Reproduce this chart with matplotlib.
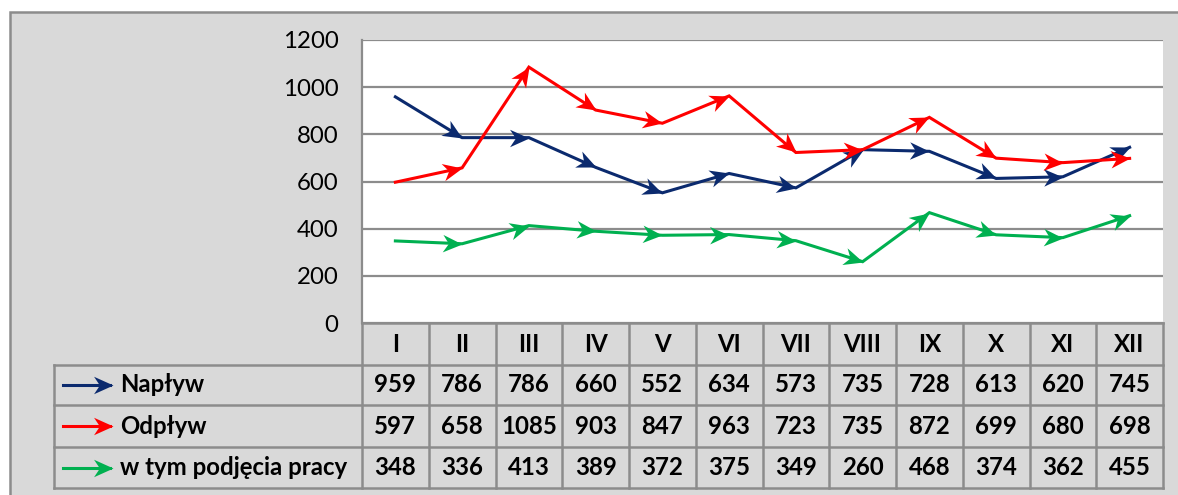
import matplotlib
matplotlib.use("Agg")
import numpy as np
import matplotlib.pyplot as plt
from matplotlib.patches import Rectangle
from matplotlib.lines import Line2D
from matplotlib.markers import MarkerStyle
from matplotlib.path import Path
import matplotlib.transforms as mtransforms

plt.rcParams['font.family'] = ['Lato', 'DejaVu Sans']

months = ["I", "II", "III", "IV", "V", "VI", "VII", "VIII", "IX", "X", "XI", "XII"]
naplyw = [959, 786, 786, 660, 552, 634, 573, 735, 728, 613, 620, 745]
odplyw = [597, 658, 1085, 903, 847, 963, 723, 735, 872, 699, 680, 698]
podjecia = [348, 336, 413, 389, 372, 375, 349, 260, 468, 374, 362, 455]
series_names = ["Napływ", "Odpływ", "w tym podjęcia pracy"]
series_colors = ["#0b2a6e", "#ff0000", "#00b050"]
yticks = [0, 200, 400, 600, 800, 1000, 1200]

W, H = 1178, 495
fig = plt.figure(figsize=(W / 100, H / 100), dpi=100)
fig.patch.set_facecolor("white")

def fx(px):
    return px / W

def fy(py):
    return 1 - py / H

GRAY = "#d9d9d9"
EDGE = "#8c8c8c"
FS = 17.3

# stealth arrowhead, tip at origin pointing +x
stealth = Path([(0, 0), (-1, 0.45), (-0.7, 0), (-1, -0.45), (0, 0)],
               [Path.MOVETO, Path.LINETO, Path.LINETO, Path.LINETO, Path.CLOSEPOLY])
MS = 28

def head(angle):
    return MarkerStyle(stealth).rotated(deg=angle)

# outer chart background
bg = Rectangle((fx(10), fy(H + 20)), fx(W + 20 - 10), fy(12) - fy(H + 20),
               transform=fig.transFigure, facecolor=GRAY, edgecolor=EDGE,
               linewidth=1.8, zorder=-10)
fig.patches.append(bg)

L, R, T, B = 362, 1163, 40, 323
ax = fig.add_axes([fx(L), fy(B), fx(R) - fx(L), fy(T) - fy(B)])
ax.set_zorder(1)
ax.set_facecolor("white")
ax.set_xlim(-0.5, len(months) - 0.5)
ax.set_ylim(0, 1200)
ax.set_yticks(yticks)
ax.set_yticklabels([str(v) for v in yticks], fontsize=FS)
ax.set_xticks([])
ax.tick_params(axis='y', length=0, pad=17)
ax.yaxis.grid(True, color=EDGE, linewidth=1.6)
ax.set_axisbelow(True)
for s in ["top", "right", "bottom"]:
    ax.spines[s].set_visible(False)
ax.spines["left"].set_color(EDGE)
ax.spines["left"].set_linewidth(1.6)

all_series = [naplyw, odplyw, podjecia]
xs = np.arange(len(months))

for vals, col in zip(all_series, series_colors):
    ax.plot(xs, vals, color=col, lw=2.2, solid_joinstyle="miter", zorder=3)
    disp = ax.transData.transform(np.column_stack([xs, vals]))
    for i in range(1, len(vals)):
        d = disp[i] - disp[i - 1]
        ang = np.degrees(np.arctan2(d[1], d[0]))
        ax.plot([xs[i]], [vals[i]], linestyle="none", marker=head(ang), markersize=MS,
                color=col, markeredgewidth=0, zorder=4)

# table
blend = mtransforms.blended_transform_factory(ax.transData, fig.transFigure)
row_edges = [323, 365, 405, 447, 488]
n = len(months)
inv = fig.transFigure.inverted()

def fig_line(x, y):
    ax.add_line(Line2D(x, y, transform=fig.transFigure, color=EDGE, linewidth=1.8,
                       zorder=3, clip_on=False))

for j in range(n + 1):
    xf = inv.transform(ax.transData.transform((j - 0.5, 0)))[0]
    fig_line([xf, xf], [fy(row_edges[0]), fy(row_edges[-1])])
fig_line([fx(54), fx(54)], [fy(row_edges[1]), fy(row_edges[-1])])
xr = inv.transform(ax.transData.transform((n - 0.5, 0)))[0]
fig_line([fx(L), xr], [fy(row_edges[0]), fy(row_edges[0])])
for k in range(1, len(row_edges)):
    fig_line([fx(54), xr], [fy(row_edges[k]), fy(row_edges[k])])

yc = fy((row_edges[0] + row_edges[1]) / 2)
for j, m in enumerate(months):
    ax.text(j, yc, m, transform=blend, ha="center", va="center", fontsize=FS,
            fontweight="bold", clip_on=False, zorder=4)

for r, (vals, name, col) in enumerate(zip(all_series, series_names, series_colors)):
    ycr = fy((row_edges[r + 1] + row_edges[r + 2]) / 2)
    for j, v in enumerate(vals):
        ax.text(j, ycr, str(v), transform=blend, ha="center", va="center", fontsize=FS,
                fontweight="bold", clip_on=False, zorder=4)
    ax.text(fx(120), ycr, name, transform=fig.transFigure, ha="left", va="center",
            fontsize=FS, fontweight="bold", clip_on=False, zorder=4)
    ax.add_line(Line2D([fx(63), fx(110)], [ycr, ycr], transform=fig.transFigure,
                       color=col, lw=2.2, clip_on=False, zorder=4))
    ax.add_line(Line2D([fx(113)], [ycr], transform=fig.transFigure, linestyle="none",
                       marker=head(0), markersize=MS, color=col, markeredgewidth=0,
                       clip_on=False, zorder=5))

fig.savefig("out.png", dpi=100)
